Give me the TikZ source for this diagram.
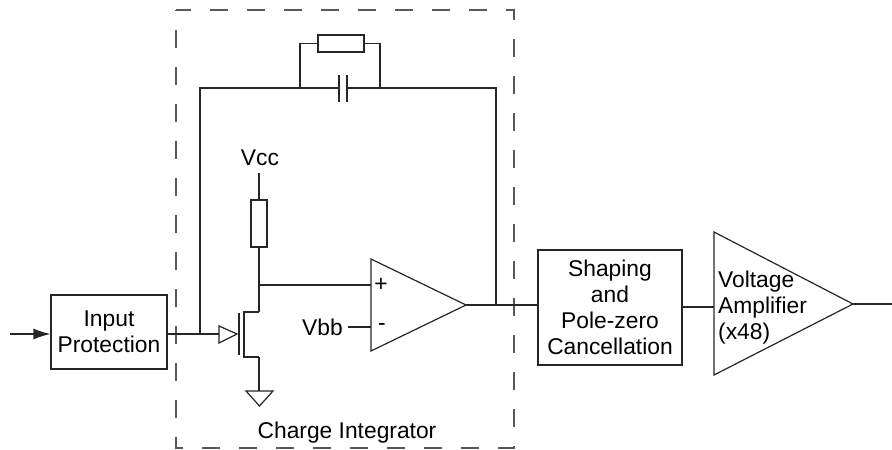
\documentclass[tikz,border=0pt]{standalone}
\usepackage{fontspec}
\setmainfont{Liberation Sans}
\usetikzlibrary{arrows.meta}
\begin{document}
\begin{tikzpicture}[x=1pt,y=-1pt,
  wire/.style={line width=1.2pt, draw=black!85},
  blk/.style={draw=black!85, line width=1.2pt, align=center, inner sep=0pt},
  lbl/.style={inner sep=0pt, font=\fontsize{22.8}{26}\selectfont},
  dashbox/.style={draw=black!65, line width=1.2pt, dash pattern=on 18pt off 19pt, dash phase=-20pt}]
\useasboundingbox (0,0) rectangle (892,450);
% dashed frame
\draw[dashbox] (176,10) rectangle (514,448);
\node[lbl] (ci) at (347,433) {Charge Integrator};
% input
\coordinate (in) at (10,334);
\node[blk, lbl, minimum width=116pt, minimum height=74pt] (ip) at (109,332) {Input\\Protection};
\draw[wire,-{Latex[length=17pt,width=11pt]}] (in) -- (ip.west |- in);
% gate triangle
\coordinate (g1) at (219,326);
\coordinate (g2) at (219,343);
\coordinate (g3) at (237,334);
\coordinate (gin) at (219,334);
\draw[wire] (g1) -- (g3) -- (g2) -- cycle;
\coordinate (jn) at (200,334);
\draw[wire] (ip.east |- in) -- (gin);
% feedback
\coordinate (fbtl) at (200,88);
\coordinate (fbtr) at (496,88);
\coordinate (outj) at (496,305);
\draw[wire] (jn) -- (fbtl) -- (339,88);
\draw[wire] (347,88) -- (fbtr) -- (outj);
\draw[wire] (339,75) -- (339,102);
\draw[wire] (347,75) -- (347,102);
\node[blk, minimum width=46pt, minimum height=17pt] (rf) at (341,43.5) {};
\draw[wire] (300,88) |- (rf.west);
\draw[wire] (380,88) |- (rf.east);
% MOSFET
\draw[wire] (239,313) -- (239,355);
\coordinate (d) at (259,312);
\coordinate (s) at (259,357);
\draw[wire] (d) -- (244,312) -- (244,357) -- (s);
% drain resistor
\node[lbl] (vcc) at (260,158) {Vcc};
\node[blk, minimum width=16pt, minimum height=47pt] (rd) at (259,223.5) {};
\draw[wire] (259,173) -- (rd.north);
\draw[wire] (rd.south) -- (d);
% ground
\coordinate (gt) at (259,391);
\draw[wire] (s) -- (gt);
\draw[wire] (246,391) -- (273,391) -- (259.5,406) -- cycle;
% op amp
\coordinate (oa1) at (371,259);
\coordinate (oa2) at (371,351);
\coordinate (oa3) at (466,305);
\draw[wire] (oa1) -- (oa3) -- (oa2) -- cycle;
\draw[wire] (259,285) -- (371,285);
\node[lbl] (plus) at (381,285) {+};
\node[lbl] (minus) at (382,327) {-};
\node[lbl, anchor=east] (vbb) at (343,327) {Vbb};
\draw[wire] (vbb.east) ++(5,0) -- (371,327);
% shaping
\node[blk, lbl, minimum width=144pt, minimum height=115pt] (sh) at (610,307.5) {Shaping\\and\\Pole-zero\\Cancellation};
\draw[wire] (oa3) -- (sh.west |- oa3);
% voltage amp
\coordinate (va1) at (714,232);
\coordinate (va2) at (714,375);
\coordinate (va3) at (853,304);
\draw[wire] (va1) -- (va3) -- (va2) -- cycle;
\node[lbl, anchor=west, align=left] (vat) at (718,308) {Voltage\\Amplifier\\(x48)};
\draw[wire] (sh.east |- 0,307) -- (714,307);
\coordinate (out) at (892,304);
\draw[wire] (va3) -- (out);
\end{tikzpicture}
\end{document}
